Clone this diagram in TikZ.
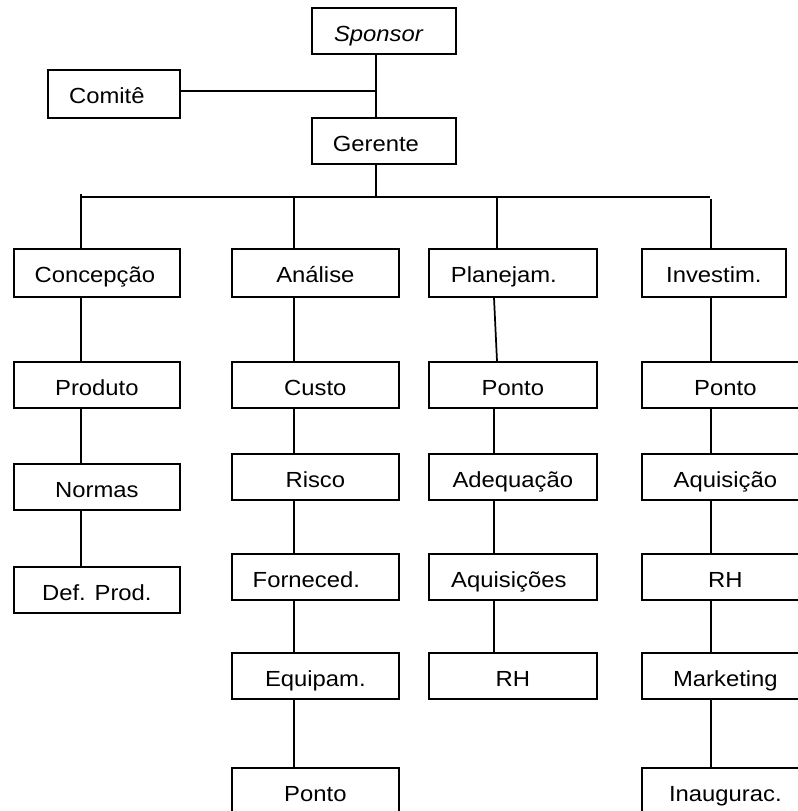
\documentclass[tikz,border=0pt]{standalone}
\usepackage{fontspec}
\setmainfont{Liberation Sans}[FakeStretch=1.09]
\usetikzlibrary{calc}
\begin{document}
\begin{tikzpicture}[x=0.75pt,y=-0.75pt,
  box/.style={draw, line width=1.3pt, anchor=north west, inner sep=0pt,
    text height=25.5pt, text depth=9pt,
    font=\fontsize{16.4pt}{18pt}\selectfont},
  tall/.style={text depth=10.5pt},
  wA/.style={minimum width=124.5pt},
  wB/.style={minimum width=125.25pt},
  wC/.style={minimum width=126pt},
  wS/.style={minimum width=108pt},
  ln/.style={line width=1.3pt}]
\useasboundingbox (0,0) rectangle (798,811);
\clip (0,0) rectangle (798,811);

% top
\node[box,wS] (sponsor) at (311,7) {\textit{Sponsor}\hspace*{7.5pt}};
\node[box,tall,minimum width=99pt] (comite) at (47,69) {Comitê\hspace*{10.5pt}};
\node[box,wS] (gerente) at (311,117) {Gerente\hspace*{12pt}};

% column 1
\node[box,wA,tall] (conc) at (13,248) {Concepção\hspace*{3pt}};
\node[box,wA] (prod) at (13,361) {Produto};
\node[box,wA] (norm) at (13,463) {Normas};
\node[box,wA] (defp) at (13,566) {Def. Prod.};

% column 2
\node[box,wB,tall] (anal) at (231,248) {Análise};
\node[box,wB] (custo) at (231,361) {Custo};
\node[box,wB] (risco) at (231,453) {Risco};
\node[box,wB] (forn) at (231,553) {Forneced.\hspace*{13.5pt}};
\node[box,wB] (equip) at (231,652) {Equipam.};
\node[box,wB] (pontoB) at (231,767) {Ponto};

% column 3
\node[box,wC,tall] (plan) at (428,248) {Planejam.\hspace*{13.5pt}};
\node[box,wC] (pontoC) at (428,361) {Ponto};
\node[box,wC] (adeq) at (428,453) {Adequação};
\node[box,wC] (aquisC) at (428,553) {Aquisições\hspace*{6pt}};
\node[box,wC] (rhC) at (428,652) {RH};

% column 4
\node[box,wS,tall] (invest) at (641,248) {Investim.};
\node[box,wB] (pontoD) at (641,361) {Ponto};
\node[box,wB] (aquisD) at (641,453) {Aquisição};
\node[box,wB] (rhD) at (641,553) {RH};
\node[box,wB] (mkt) at (641,652) {Marketing};
\node[box,wB] (inaug) at (641,767) {Inaugurac.};

% junctions
\coordinate (j) at (376,91);
\coordinate (busL) at (81,197);
\coordinate (busR) at (710,197);
\coordinate (c1) at (81,194);
\coordinate (c2) at (294,197);
\coordinate (c3) at (497,197);
\coordinate (c3b) at (494,300);
\coordinate (c4) at (711,199);

% top connectors
\draw[ln] (j |- sponsor.south) -- (j |- gerente.north);
\draw[ln] (comite.east |- j) -- (j);
\draw[ln] (j |- gerente.south) -- (j |- busL);
\draw[ln] (busL) -- (busR);

% column 1
\draw[ln] (c1) -- (c1 |- conc.north);
\draw[ln] (c1 |- conc.south) -- (c1 |- prod.north);
\draw[ln] (c1 |- prod.south) -- (c1 |- norm.north);
\draw[ln] (c1 |- norm.south) -- (c1 |- defp.north);

% column 2
\draw[ln] (c2) -- (c2 |- anal.north);
\draw[ln] (c2 |- anal.south) -- (c2 |- custo.north);
\draw[ln] (c2 |- custo.south) -- (c2 |- risco.north);
\draw[ln] (c2 |- risco.south) -- (c2 |- forn.north);
\draw[ln] (c2 |- forn.south) -- (c2 |- equip.north);
\draw[ln] (c2 |- equip.south) -- (c2 |- pontoB.north);

% column 3
\draw[ln] (c3) -- (c3 |- plan.north);
\draw[ln] (c3b |- plan.south) -- (c3 |- pontoC.north);
\draw[ln] (c3b |- pontoC.south) -- (c3b |- adeq.north);
\draw[ln] (c3b |- adeq.south) -- (c3b |- aquisC.north);
\draw[ln] (c3b |- aquisC.south) -- (c3b |- rhC.north);

% column 4
\draw[ln] (c4) -- (c4 |- invest.north);
\draw[ln] (c4 |- invest.south) -- (c4 |- pontoD.north);
\draw[ln] (c4 |- pontoD.south) -- (c4 |- aquisD.north);
\draw[ln] (c4 |- aquisD.south) -- (c4 |- rhD.north);
\draw[ln] (c4 |- rhD.south) -- (c4 |- mkt.north);
\draw[ln] (c4 |- mkt.south) -- (c4 |- inaug.north);
\end{tikzpicture}
\end{document}
